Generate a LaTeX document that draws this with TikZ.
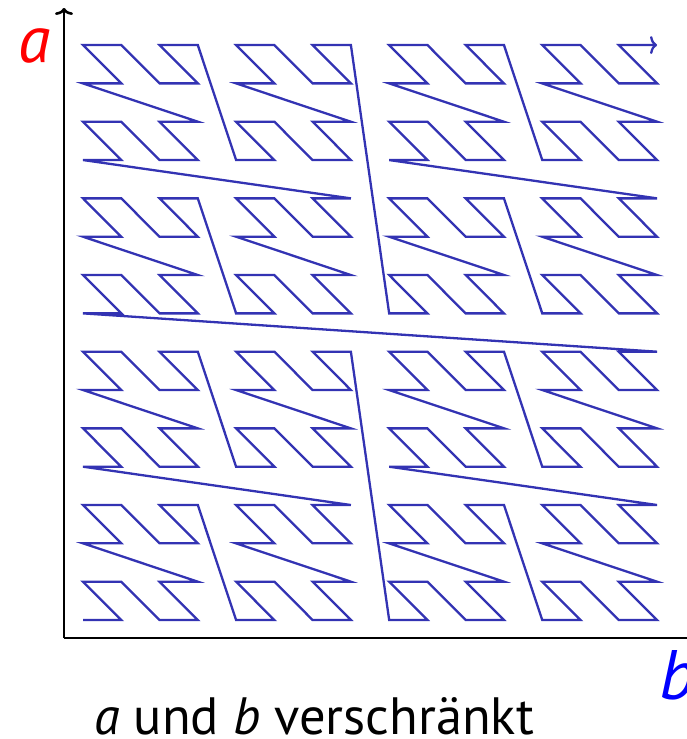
\documentclass[tikz,border=0pt]{standalone}
\usepackage{fontspec}
\setmainfont{PT Sans}
\usetikzlibrary{arrows.meta}
\definecolor{curveblue}{RGB}{51,51,179}
\definecolor{lblred}{RGB}{255,0,0}
\definecolor{lblblue}{RGB}{0,0,255}
\begin{document}
\begin{tikzpicture}[x=1pt,y=-1pt,
  axisline/.style={line width=2.6pt, -{To[length=7pt,width=18pt]}},
  zcurve/.style={curveblue, line width=2.3pt, -{To[length=7pt,width=18pt]}},
  lbl/.style={font=\fontsize{66}{66}\selectfont\itshape, inner sep=0pt, anchor=base west},
]
\useasboundingbox (0,0) rectangle (687,739);
\coordinate (o) at (64,638);
\coordinate (ytip) at (64,8);
\coordinate (xtip) at (696,638);
\draw[axisline] (o) -- (ytip);
\draw[axisline] (o) -- (xtip);
\foreach \i in {0,...,255}{
  \pgfmathtruncatemacro\zB{mod(\i,2)+2*mod(floor(\i/4),2)+4*mod(floor(\i/16),2)+8*mod(floor(\i/64),2)}
  \pgfmathtruncatemacro\zA{mod(floor(\i/2),2)+2*mod(floor(\i/8),2)+4*mod(floor(\i/32),2)+8*mod(floor(\i/128),2)}
  \coordinate (p\i) at ({83+38.27*\zB},{620-38.33*\zA});
}
\draw[zcurve] (p0) \foreach \i in {1,...,255}{ -- (p\i) };
\node[lbl, text=lblred] (la) at (18,62) {a};
\node[lbl, text=lblblue, font=\fontsize{70}{70}\selectfont\itshape] (lb) at (659,699) {b};
\node[font=\fontsize{52.5}{52.5}\selectfont, anchor=base, inner sep=0pt] (cap) at (314,734) {\textit{a} und \textit{b} verschränkt};
\end{tikzpicture}
\end{document}
